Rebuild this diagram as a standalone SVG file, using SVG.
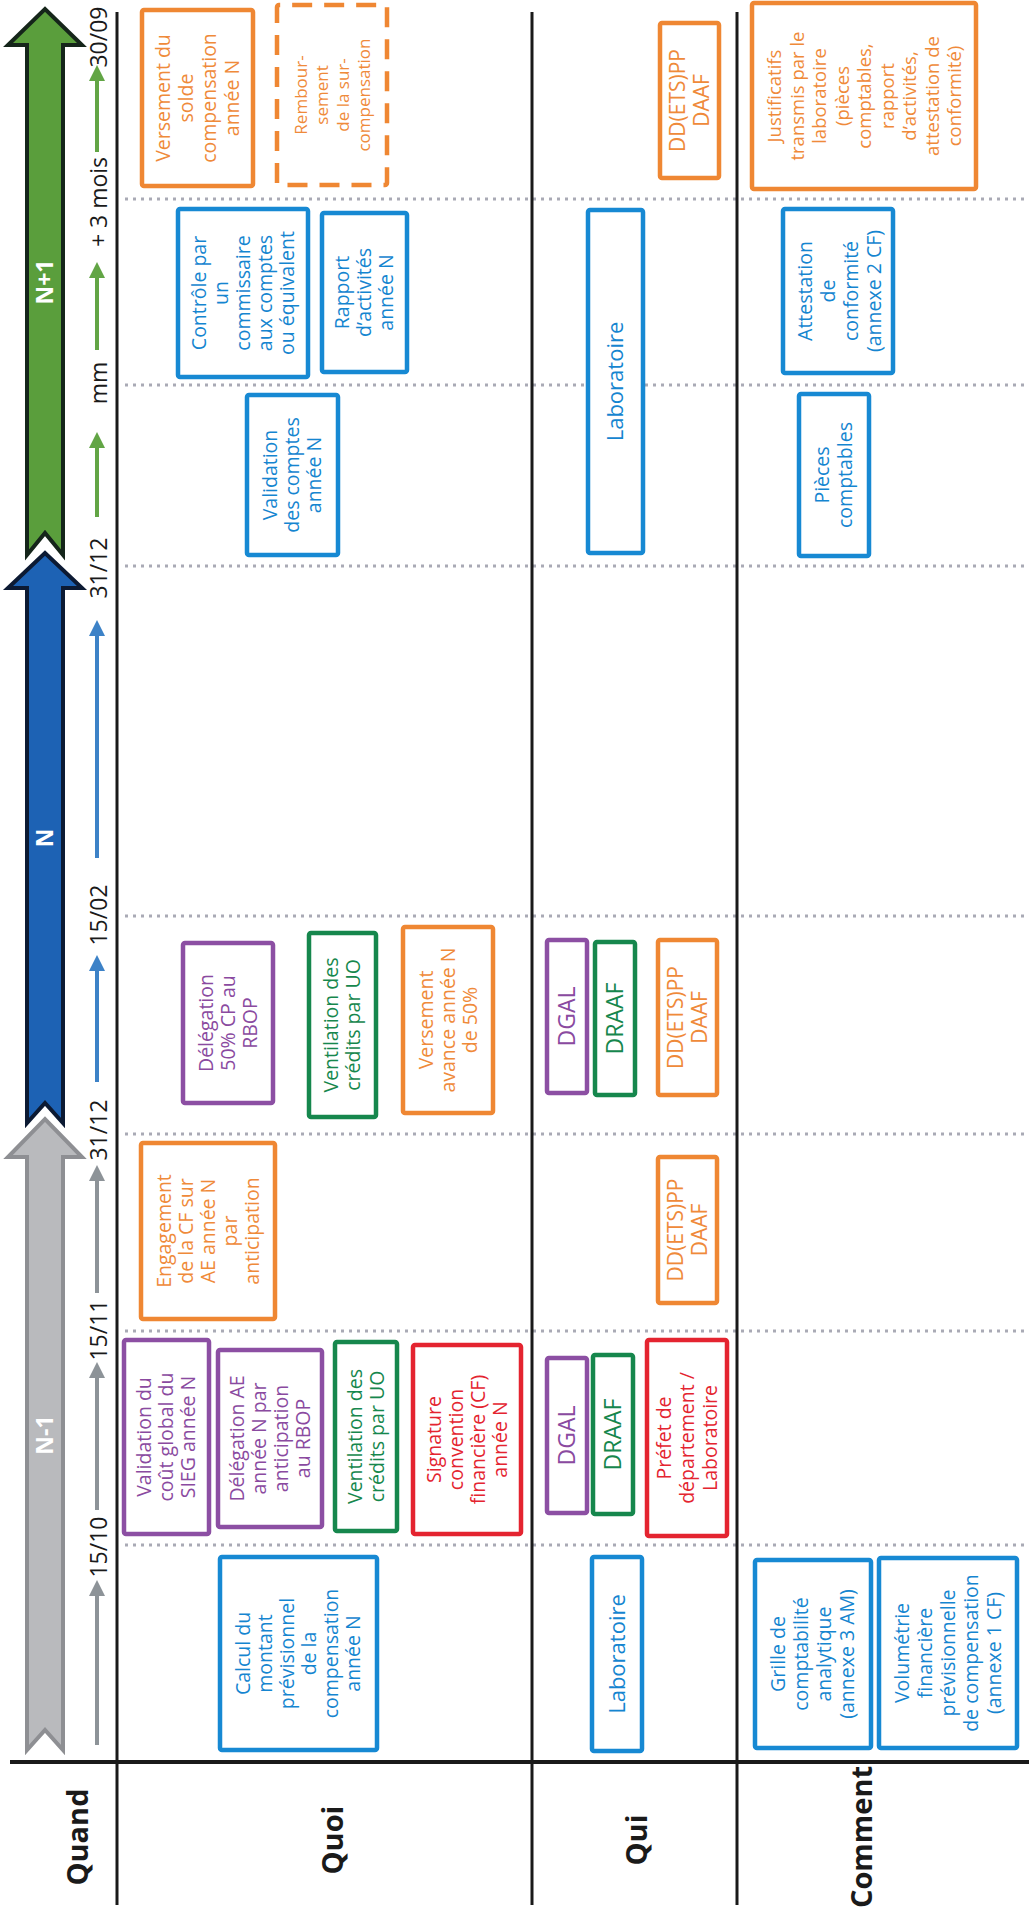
<svg xmlns="http://www.w3.org/2000/svg" width="1029" height="1910" viewBox="0 0 1029 1910">
<style>
text{font-family:"Open Sans","Noto Sans","Liberation Sans",sans-serif;text-anchor:middle}
.b{fill:#fff;stroke-width:4.5}
.bo{stroke:#ef8733}.bb{stroke:#1789d3}.bp{stroke:#8c4fa3}.bg{stroke:#16874d}.br{stroke:#e42430}
.to{fill:#ef8a3a}.tb{fill:#1585d0}.tp{fill:#8a4aa0}.tg{fill:#16874d}.tr{fill:#e42430}
.t19{font-size:19.5px}.t17{font-size:17px}.t18{font-size:18.5px}.t21{font-size:21px}.t22{font-size:22px}.t23{font-size:23px}
.lab{font-size:29px;font-weight:700;fill:#1a1a1a}
.date{font-size:23px;fill:#1a1a1a}
.arl{font-size:23px;font-weight:700;fill:#fff}
.dot{stroke:#a9aab5;stroke-width:3;stroke-dasharray:3 5}
.sol{stroke:#1a1a1a;stroke-width:3}
.sg{stroke:#62a545;stroke-width:4}.sbl{stroke:#3d82c7;stroke-width:4}.sgr{stroke:#8d9398;stroke-width:4}
</style>
<defs>
<marker id="mg" viewBox="0 0 16 16" refX="4" refY="8" markerWidth="16" markerHeight="16" markerUnits="userSpaceOnUse" orient="auto"><path d="M0,0 L16,8 L0,16 z" fill="#62a545"/></marker>
<marker id="mb" viewBox="0 0 16 16" refX="4" refY="8" markerWidth="16" markerHeight="16" markerUnits="userSpaceOnUse" orient="auto"><path d="M0,0 L16,8 L0,16 z" fill="#3d82c7"/></marker>
<marker id="mgr" viewBox="0 0 16 16" refX="4" refY="8" markerWidth="16" markerHeight="16" markerUnits="userSpaceOnUse" orient="auto"><path d="M0,0 L16,8 L0,16 z" fill="#8d9398"/></marker>
</defs>
<rect width="1029" height="1910" fill="#ffffff"/>
<g transform="translate(0,1910) rotate(-90)">
<g id="grid">
<line class="dot" x1="1711" y1="125" x2="1711" y2="1029"/>
<line class="dot" x1="1525" y1="125" x2="1525" y2="1029"/>
<line class="dot" x1="1344" y1="125" x2="1344" y2="1029"/>
<line class="dot" x1="994" y1="125" x2="994" y2="1029"/>
<line class="dot" x1="776" y1="125" x2="776" y2="1029"/>
<line class="dot" x1="579" y1="125" x2="579" y2="1029"/>
<line class="dot" x1="365" y1="125" x2="365" y2="1029"/>
<line class="sol" x1="5" y1="117" x2="1898" y2="117"/>
<line class="sol" x1="5" y1="532" x2="1898" y2="532"/>
<line class="sol" x1="5" y1="737" x2="1898" y2="737"/>
<line class="sol" style="stroke-width:4" x1="148" y1="10" x2="148" y2="1029"/>
</g>
<g id="labels">
<text class="lab" x="73" y="88">Quand</text>
<text class="lab" x="70" y="343">Quoi</text>
<text class="lab" x="70" y="647">Qui</text>
<text class="lab" x="73" y="872">Comment</text>
</g>
<g id="periods">
<g id="period-n1"><polygon points="160,27 753,27 753,8 791,45 753,82 753,63 160,63 180,45" fill="#b9babd" stroke="#8e8f93" stroke-width="4" stroke-linejoin="miter"/><text class="arl" x="475" y="53">N-1</text></g>
<g id="period-n"><polygon points="787,27 1322,27 1322,8 1357,45 1322,82 1322,63 787,63 807,45" fill="#1d62b4" stroke="#0c1a33" stroke-width="4"/><text class="arl" x="1072" y="53">N</text></g>
<g id="period-np1"><polygon points="1355,27 1865,27 1865,8 1901,45 1865,82 1865,63 1355,63 1377,45" fill="#5a9e3c" stroke="#15251a" stroke-width="4"/><text class="arl" x="1628" y="53">N+1</text></g>
</g>
<g id="dates">
<text class="date" x="1873" y="107">30/09</text>
<text class="date" x="1708" y="107">+ 3 mois</text>
<text class="date" x="1527" y="107">mm</text>
<text class="date" x="1342" y="107">31/12</text>
<text class="date" x="995" y="107">15/02</text>
<text class="date" x="780" y="107">31/12</text>
<text class="date" x="580" y="107">15/11</text>
<text class="date" x="363" y="107">15/10</text>
</g>
<g id="connectors">
<line class="sg" x1="1758" y1="97" x2="1833" y2="97" marker-end="url(#mg)"/>
<line class="sg" x1="1560" y1="97" x2="1636" y2="97" marker-end="url(#mg)"/>
<line class="sg" x1="1393" y1="97" x2="1466" y2="97" marker-end="url(#mg)"/>
<line class="sbl" x1="1052" y1="97" x2="1278" y2="97" marker-end="url(#mb)"/>
<line class="sbl" x1="828" y1="97" x2="943" y2="97" marker-end="url(#mb)"/>
<line class="sgr" x1="617" y1="97" x2="733" y2="97" marker-end="url(#mgr)"/>
<line class="sgr" x1="400" y1="97" x2="536" y2="97" marker-end="url(#mgr)"/>
<line class="sgr" x1="165" y1="97" x2="318" y2="97" marker-end="url(#mgr)"/>
</g>
<g id="n1"><rect class="b bo" x="1724" y="142" width="176" height="111" rx="2"/><text class="t19 to" y="170"><tspan x="1812">Versement du</tspan><tspan x="1812" dy="23">solde</tspan><tspan x="1812" dy="23">compensation</tspan><tspan x="1812" dy="23">année N</tspan></text></g>
<g id="n2"><rect class="b bo" style="stroke-dasharray:20 12" x="1725" y="277" width="180" height="110" rx="2"/><text class="t17 to" y="306.5"><tspan x="1815">Rembour-</tspan><tspan x="1815" dy="21">sement</tspan><tspan x="1815" dy="21">de la sur-</tspan><tspan x="1815" dy="21">compensation</tspan></text></g>
<g id="n3"><rect class="b bb" x="1533" y="178" width="168" height="130" rx="2"/><text class="t19 tb" y="206"><tspan x="1617">Contrôle par</tspan><tspan x="1617" dy="22">un</tspan><tspan x="1617" dy="22">commissaire</tspan><tspan x="1617" dy="22">aux comptes</tspan><tspan x="1617" dy="22">ou équivalent</tspan></text></g>
<g id="n4"><rect class="b bb" x="1538" y="322" width="159" height="85" rx="2"/><text class="t19 tb" y="349"><tspan x="1617.5">Rapport</tspan><tspan x="1617.5" dy="22">d’activités</tspan><tspan x="1617.5" dy="22">année N</tspan></text></g>
<g id="n5"><rect class="b bb" x="1355" y="247" width="160" height="91" rx="2"/><text class="t19 tb" y="277"><tspan x="1435">Validation</tspan><tspan x="1435" dy="22">des comptes</tspan><tspan x="1435" dy="22">année N</tspan></text></g>
<g id="n6"><rect class="b bp" x="807" y="183" width="160" height="90" rx="2"/><text class="t19 tp" y="213"><tspan x="887">Délégation</tspan><tspan x="887" dy="22">50% CP au</tspan><tspan x="887" dy="22">RBOP</tspan></text></g>
<g id="n7"><rect class="b bg" x="793" y="309" width="184" height="67" rx="2"/><text class="t19 tg" y="338"><tspan x="885">Ventilation des</tspan><tspan x="885" dy="22">crédits par UO</tspan></text></g>
<g id="n8"><rect class="b bo" x="797" y="403" width="186" height="90" rx="2"/><text class="t19 to" y="433"><tspan x="890">Versement</tspan><tspan x="890" dy="22">avance année N</tspan><tspan x="890" dy="22">de 50%</tspan></text></g>
<g id="n9"><rect class="b bo" x="591" y="141" width="176" height="134" rx="2"/><text class="t19 to" y="171"><tspan x="679">Engagement</tspan><tspan x="679" dy="22">de la CF sur</tspan><tspan x="679" dy="22">AE année N</tspan><tspan x="679" dy="22">par</tspan><tspan x="679" dy="22">anticipation</tspan></text></g>
<g id="n10"><rect class="b bp" x="376" y="124" width="194" height="85" rx="2"/><text class="t19 tp" y="151"><tspan x="473">Validation du</tspan><tspan x="473" dy="22">coût global du</tspan><tspan x="473" dy="22">SIEG année N</tspan></text></g>
<g id="n11"><rect class="b bp" x="383" y="218" width="177" height="104" rx="2"/><text class="t19 tp" y="244"><tspan x="471.5">Délégation AE</tspan><tspan x="471.5" dy="22">année N par</tspan><tspan x="471.5" dy="22">anticipation</tspan><tspan x="471.5" dy="22">au RBOP</tspan></text></g>
<g id="n12"><rect class="b bg" x="379" y="335" width="189" height="62" rx="2"/><text class="t19 tg" y="362"><tspan x="473.5">Ventilation des</tspan><tspan x="473.5" dy="22">crédits par UO</tspan></text></g>
<g id="n13"><rect class="b br" x="376" y="413" width="189" height="108" rx="2"/><text class="t19 tr" y="441"><tspan x="470.5">Signature</tspan><tspan x="470.5" dy="22">convention</tspan><tspan x="470.5" dy="22">financière (CF)</tspan><tspan x="470.5" dy="22">année N</tspan></text></g>
<g id="n14"><rect class="b bb" x="160" y="220" width="193" height="157" rx="2"/><text class="t19 tb" y="250"><tspan x="256.5">Calcul du</tspan><tspan x="256.5" dy="22">montant</tspan><tspan x="256.5" dy="22">prévisionnel</tspan><tspan x="256.5" dy="22">de la</tspan><tspan x="256.5" dy="22">compensation</tspan><tspan x="256.5" dy="22">année N</tspan></text></g>
<g id="n15"><rect class="b bo" x="1732" y="660" width="155" height="59" rx="2"/><text class="t21 to" y="685"><tspan x="1809.5">DD(ETS)PP</tspan><tspan x="1809.5" dy="24">DAAF</tspan></text></g>
<g id="n16"><rect class="b bb" x="1357" y="588" width="343" height="55" rx="2"/><text class="t22 tb" x="1528.5" y="623">Laboratoire</text></g>
<g id="n17"><rect class="b bp" x="817" y="547" width="153" height="40" rx="2"/><text class="t23 tp" x="893.5" y="575">DGAL</text></g>
<g id="n18"><rect class="b bg" x="815" y="595" width="153" height="40" rx="2"/><text class="t23 tg" x="891.5" y="623">DRAAF</text></g>
<g id="n19"><rect class="b bo" x="815" y="658" width="155" height="59" rx="2"/><text class="t21 to" y="683"><tspan x="892.5">DD(ETS)PP</tspan><tspan x="892.5" dy="24">DAAF</tspan></text></g>
<g id="n20"><rect class="b bo" x="607" y="658" width="146" height="59" rx="2"/><text class="t21 to" y="683"><tspan x="680">DD(ETS)PP</tspan><tspan x="680" dy="24">DAAF</tspan></text></g>
<g id="n21"><rect class="b bp" x="397" y="547" width="155" height="40" rx="2"/><text class="t23 tp" x="474.5" y="575">DGAL</text></g>
<g id="n22"><rect class="b bg" x="396" y="593" width="159" height="40" rx="2"/><text class="t23 tg" x="475.5" y="621">DRAAF</text></g>
<g id="n23"><rect class="b br" x="374" y="647" width="196" height="80" rx="2"/><text class="t19 tr" y="671"><tspan x="472">Préfet de</tspan><tspan x="472" dy="23">département /</tspan><tspan x="472" dy="23">Laboratoire</tspan></text></g>
<g id="n24"><rect class="b bb" x="159" y="592" width="194" height="50" rx="2"/><text class="t22 tb" x="256" y="625">Laboratoire</text></g>
<g id="n25"><rect class="b bo" x="1721" y="752" width="186" height="224" rx="2"/><text class="t18 to" y="781"><tspan x="1814">Justificatifs</tspan><tspan x="1814" dy="22.5">transmis par le</tspan><tspan x="1814" dy="22.5">laboratoire</tspan><tspan x="1814" dy="22.5">(pièces</tspan><tspan x="1814" dy="22.5">comptables,</tspan><tspan x="1814" dy="22.5">rapport</tspan><tspan x="1814" dy="22.5">d’activités,</tspan><tspan x="1814" dy="22.5">attestation de</tspan><tspan x="1814" dy="22.5">conformité)</tspan></text></g>
<g id="n26"><rect class="b bb" x="1537" y="783" width="164" height="110" rx="2"/><text class="t19 tb" y="812"><tspan x="1619">Attestation</tspan><tspan x="1619" dy="23">de</tspan><tspan x="1619" dy="23">conformité</tspan><tspan x="1619" dy="23">(annexe 2 CF)</tspan></text></g>
<g id="n27"><rect class="b bb" x="1354" y="799" width="162" height="70" rx="2"/><text class="t19 tb" y="829"><tspan x="1435">Pièces</tspan><tspan x="1435" dy="23">comptables</tspan></text></g>
<g id="n28"><rect class="b bb" x="162" y="755" width="188" height="116" rx="2"/><text class="t19 tb" y="785"><tspan x="256">Grille de</tspan><tspan x="256" dy="23">comptabilité</tspan><tspan x="256" dy="23">analytique</tspan><tspan x="256" dy="23">(annexe 3 AM)</tspan></text></g>
<g id="n29"><rect class="b bb" x="162" y="879" width="190" height="138" rx="2"/><text class="t19 tb" y="909"><tspan x="257">Volumétrie</tspan><tspan x="257" dy="23">financière</tspan><tspan x="257" dy="23">prévisionnelle</tspan><tspan x="257" dy="23">de compensation</tspan><tspan x="257" dy="23">(annexe 1 CF)</tspan></text></g>
</g>
</svg>
